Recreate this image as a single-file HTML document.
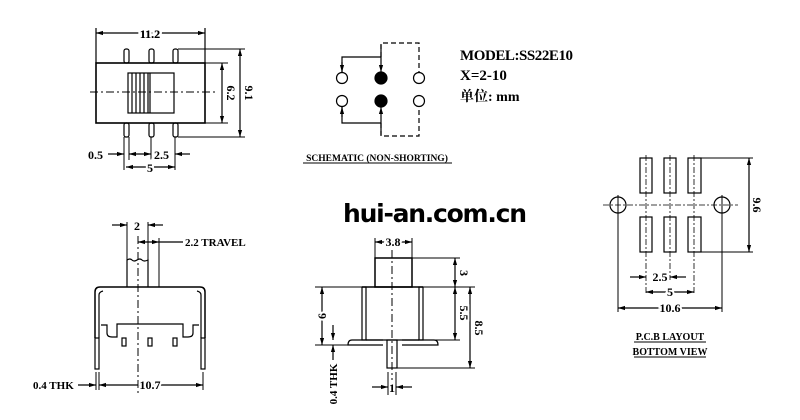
<!DOCTYPE html>
<html><head><meta charset="utf-8"><style>
html,body{margin:0;padding:0;background:#fff;}
svg{display:block;}
text{font-family:"Liberation Serif","Noto Serif CJK SC",serif;font-weight:bold;fill:#000;}
</style></head><body>
<svg width="800" height="420" viewBox="0 0 800 420" xmlns="http://www.w3.org/2000/svg">
<defs>
<marker id="a" viewBox="0 0 10 10" refX="10" refY="5" markerWidth="6" markerHeight="6" orient="auto-start-reverse"><path d="M0,2 L10,5 L0,8z" fill="#000"/></marker>
</defs>
<g stroke="#000" stroke-width="1.2" fill="none">
<!-- TOP LEFT -->
<line x1="96" y1="33" x2="205" y2="33" marker-start="url(#a)" marker-end="url(#a)"/>
<line x1="96" y1="28" x2="96" y2="63"/><line x1="205" y1="28" x2="205" y2="63"/>
<rect x="96" y="63" width="109" height="60" stroke-width="1.6"/>
<rect x="124" y="49" width="5" height="14" rx="2"/><rect x="149" y="49" width="5" height="14" rx="2"/><rect x="173" y="49" width="5" height="14" rx="2"/>
<rect x="124" y="123" width="5" height="14" rx="2"/><rect x="149" y="123" width="5" height="14" rx="2"/><rect x="173" y="123" width="5" height="14" rx="2"/>
<rect x="128" y="73" width="46" height="40"/>
<line x1="132" y1="73" x2="132" y2="113"/><line x1="136" y1="73" x2="136" y2="113"/><line x1="140" y1="73" x2="140" y2="113"/><line x1="144" y1="73" x2="144" y2="113"/><line x1="148" y1="73" x2="148" y2="113"/><line x1="150" y1="73" x2="150" y2="113"/>
<line x1="90" y1="92" x2="215" y2="92" stroke-dasharray="8,3,2,3" stroke-width="1"/>
<line x1="205" y1="63" x2="228" y2="63" stroke-width="1"/><line x1="205" y1="123" x2="228" y2="123" stroke-width="1"/>
<line x1="222" y1="63" x2="222" y2="123" marker-start="url(#a)" marker-end="url(#a)"/>
<line x1="178" y1="49" x2="245" y2="49" stroke-width="1"/><line x1="178" y1="137" x2="245" y2="137" stroke-width="1"/>
<line x1="240" y1="49" x2="240" y2="137" marker-start="url(#a)" marker-end="url(#a)"/>
<line x1="124" y1="137" x2="124" y2="170" stroke-width="1"/><line x1="129" y1="137" x2="129" y2="160" stroke-width="1"/><line x1="151" y1="137" x2="151" y2="160" stroke-width="1"/><line x1="175" y1="137" x2="175" y2="170" stroke-width="1"/>
<line x1="108" y1="154" x2="124" y2="154" marker-end="url(#a)"/><line x1="129" y1="154" x2="151" y2="154" marker-start="url(#a)" marker-end="url(#a)"/><line x1="190" y1="154" x2="175" y2="154" marker-end="url(#a)"/>
<line x1="126" y1="167" x2="175" y2="167" marker-start="url(#a)" marker-end="url(#a)"/>
<!-- SCHEMATIC -->
<circle cx="342" cy="78" r="5.5"/><circle cx="419" cy="78" r="5.5"/><circle cx="342" cy="101" r="5.5"/><circle cx="419" cy="101" r="5.5"/>
<circle cx="381" cy="78" r="6" fill="#000"/><circle cx="381" cy="101" r="6" fill="#000"/>
<polyline points="342,72 342,57 381,57"/><line x1="381" y1="45" x2="381" y2="72" marker-end="url(#a)"/><line x1="342" y1="62" x2="342" y2="72" marker-end="url(#a)"/>
<polyline points="342,107 342,123 381,123"/><line x1="381" y1="135" x2="381" y2="107" marker-end="url(#a)"/><line x1="342" y1="117" x2="342" y2="107" marker-end="url(#a)"/>
<polyline points="381,57 381,43 419,43 419,72" stroke-dasharray="5,3"/><polyline points="381,123 381,136 419,136 419,107" stroke-dasharray="5,3"/>
<line x1="303" y1="163" x2="452" y2="163" stroke-width="1"/>
<!-- BOTTOM LEFT -->
<path d="M127,287 V260 q3,-2 5,0 t5,0 t5,0 t6,0 V287"/>
<line x1="138" y1="236" x2="138" y2="395" stroke-dasharray="8,3,2,3" stroke-width="1"/>
<line x1="127" y1="222" x2="127" y2="260" stroke-width="1"/><line x1="148" y1="222" x2="148" y2="260" stroke-width="1"/>
<line x1="112" y1="225" x2="127" y2="225" marker-end="url(#a)"/><line x1="163" y1="225" x2="148" y2="225" marker-end="url(#a)"/>
<line x1="159" y1="238" x2="159" y2="287" stroke-width="1"/>
<line x1="138" y1="242" x2="159" y2="242" marker-start="url(#a)" marker-end="url(#a)"/><line x1="159" y1="242" x2="183" y2="242"/>
<path d="M95,338 V292 q0,-5 5,-5 H200 q5,0 5,5 V338" stroke-width="1.5"/>
<path d="M99,338 V295 q0,-3 4,-4 M201,338 V295 q0,-3 -4,-4"/>
<path d="M101,325 H107 V333 q0,4 5,4 H117 V324 H183 V337 H188 q5,0 5,-4 V325 H199"/>
<rect x="95" y="338" width="4" height="31"/><rect x="201" y="338" width="4" height="31"/>
<rect x="122" y="338" width="4" height="8"/><rect x="148" y="338" width="4" height="8"/><rect x="173" y="338" width="4" height="8"/>
<line x1="96" y1="372" x2="96" y2="390" stroke-width="1"/><line x1="99" y1="372" x2="99" y2="390" stroke-width="1"/><line x1="203" y1="372" x2="203" y2="390" stroke-width="1"/>
<line x1="78" y1="385" x2="96" y2="385" marker-end="url(#a)"/><line x1="99" y1="385" x2="203" y2="385" marker-start="url(#a)" marker-end="url(#a)"/>
<!-- BOTTOM MIDDLE -->
<line x1="375" y1="238" x2="375" y2="258" stroke-width="1"/><line x1="412" y1="238" x2="412" y2="258" stroke-width="1"/>
<line x1="375" y1="242" x2="412" y2="242" marker-start="url(#a)" marker-end="url(#a)"/>
<rect x="375" y="258" width="37" height="29" stroke-width="1.5"/>
<line x1="362" y1="287" x2="423" y2="287" stroke-width="1.5"/>
<rect x="362" y="287" width="4" height="53"/><rect x="419" y="287" width="4" height="53"/>
<line x1="366" y1="340" x2="419" y2="340"/>
<path d="M383,340 H352 q-4,0 -4,5 H383 M402,340 H434 q4,0 4,5 H402"/>
<rect x="387" y="340" width="10" height="28"/>
<line x1="392" y1="250" x2="392" y2="380" stroke-dasharray="8,3,2,3" stroke-width="1"/>
<line x1="412" y1="258" x2="460" y2="258" stroke-width="1"/><line x1="423" y1="287" x2="475" y2="287" stroke-width="1"/><line x1="423" y1="340" x2="460" y2="340" stroke-width="1"/><line x1="397" y1="368" x2="475" y2="368" stroke-width="1"/>
<line x1="455" y1="258" x2="455" y2="287" marker-start="url(#a)" marker-end="url(#a)"/>
<line x1="455" y1="287" x2="455" y2="340" marker-start="url(#a)" marker-end="url(#a)"/>
<line x1="470" y1="287" x2="470" y2="368" marker-start="url(#a)" marker-end="url(#a)"/>
<line x1="315" y1="287" x2="362" y2="287" stroke-width="1"/><line x1="315" y1="345" x2="348" y2="345" stroke-width="1"/>
<line x1="322" y1="287" x2="322" y2="345" marker-start="url(#a)" marker-end="url(#a)"/>
<line x1="333" y1="325" x2="333" y2="340" marker-end="url(#a)"/><line x1="333" y1="360" x2="333" y2="345" marker-end="url(#a)"/>
<line x1="388" y1="372" x2="388" y2="395" stroke-width="1"/><line x1="396" y1="372" x2="396" y2="395" stroke-width="1"/>
<line x1="372" y1="387" x2="388" y2="387" marker-end="url(#a)"/><line x1="412" y1="387" x2="396" y2="387" marker-end="url(#a)"/>
<!-- PCB -->
<rect x="640" y="158" width="12" height="35"/><rect x="664" y="158" width="12" height="35"/><rect x="688" y="158" width="13" height="35"/>
<rect x="640" y="217" width="12" height="35"/><rect x="664" y="217" width="12" height="35"/><rect x="688" y="217" width="13" height="35"/>
<g stroke-dasharray="6,2,2,2" stroke-width="0.8"><line x1="646" y1="155" x2="646" y2="295"/><line x1="670" y1="155" x2="670" y2="280"/><line x1="694" y1="155" x2="694" y2="295"/><line x1="603" y1="205" x2="738" y2="205"/></g>
<circle cx="618" cy="205" r="8"/><circle cx="722" cy="205" r="8"/>
<line x1="618" y1="195" x2="618" y2="312" stroke-width="1"/><line x1="722" y1="195" x2="722" y2="312" stroke-width="1"/>
<line x1="701" y1="158" x2="753" y2="158" stroke-width="1"/><line x1="701" y1="252" x2="753" y2="252" stroke-width="1"/>
<line x1="749" y1="158" x2="749" y2="252" marker-start="url(#a)" marker-end="url(#a)"/>
<line x1="630" y1="277" x2="646" y2="277" marker-end="url(#a)"/><line x1="686" y1="277" x2="670" y2="277" marker-end="url(#a)"/>
<line x1="646" y1="292" x2="694" y2="292" marker-start="url(#a)" marker-end="url(#a)"/>
<line x1="618" y1="308" x2="722" y2="308" marker-start="url(#a)" marker-end="url(#a)"/>
<line x1="634" y1="342" x2="706" y2="342" stroke-width="1"/><line x1="634" y1="357" x2="706" y2="357" stroke-width="1"/>
</g>
<g font-size="12">
<text x="150" y="38" text-anchor="middle" style="paint-order:stroke" stroke="#fff" stroke-width="5">11.2</text>
<text x="150" y="38" text-anchor="middle">11.2</text>
<text transform="translate(227,93) rotate(90)" text-anchor="middle" stroke="#fff" stroke-width="4" style="paint-order:stroke">6.2</text>
<text transform="translate(245,93) rotate(90)" text-anchor="middle" stroke="#fff" stroke-width="4" style="paint-order:stroke">9.1</text>
<text x="88" y="159">0.5</text>
<text x="154" y="159" stroke="#fff" stroke-width="4" style="paint-order:stroke">2.5</text>
<text x="150" y="172" text-anchor="middle" stroke="#fff" stroke-width="4" style="paint-order:stroke">5</text>
<text x="137" y="230" text-anchor="middle">2</text>
<text x="185" y="246" font-size="11">2.2  TRAVEL</text>
<text x="33" y="389" font-size="11">0.4  THK</text>
<text x="150" y="389" text-anchor="middle" stroke="#fff" stroke-width="4" style="paint-order:stroke">10.7</text>
<text x="393" y="246" text-anchor="middle" stroke="#fff" stroke-width="4" style="paint-order:stroke">3.8</text>
<text transform="translate(460,273) rotate(90)" text-anchor="middle" stroke="#fff" stroke-width="4" style="paint-order:stroke">3</text>
<text transform="translate(460,313) rotate(90)" text-anchor="middle" stroke="#fff" stroke-width="4" style="paint-order:stroke">5.5</text>
<text transform="translate(475,328) rotate(90)" text-anchor="middle" stroke="#fff" stroke-width="4" style="paint-order:stroke">8.5</text>
<text transform="translate(326,316) rotate(-90)" text-anchor="middle" stroke="#fff" stroke-width="4" style="paint-order:stroke">6</text>
<text transform="translate(337,384) rotate(-90)" text-anchor="middle" font-size="11">0.4 THK</text>
<text x="392" y="392" text-anchor="middle">1</text>
<text transform="translate(753,205) rotate(90)" text-anchor="middle" stroke="#fff" stroke-width="4" style="paint-order:stroke">9.6</text>
<text x="660" y="281" text-anchor="middle" stroke="#fff" stroke-width="4" style="paint-order:stroke">2.5</text>
<text x="670" y="296" text-anchor="middle" stroke="#fff" stroke-width="4" style="paint-order:stroke">5</text>
<text x="670" y="312" text-anchor="middle" stroke="#fff" stroke-width="4" style="paint-order:stroke">10.6</text>
<text x="670" y="340" text-anchor="middle" font-size="10">P.C.B  LAYOUT</text>
<text x="670" y="355" text-anchor="middle" font-size="10">BOTTOM  VIEW</text>
<text x="377" y="161" text-anchor="middle" font-size="9.5">SCHEMATIC (NON-SHORTING)</text>
<text x="460" y="60" font-size="15" font-weight="normal" textLength="113">MODEL:SS22E10</text>
<text x="460" y="80" font-size="15" font-weight="normal">X=2-10</text>
<text x="460" y="101" font-size="14" font-weight="normal">单位: mm</text>
</g>
<text x="343" y="222" font-family="'DejaVu Sans','Liberation Sans',sans-serif" font-size="25" font-weight="bold" textLength="184" style="font-family:'DejaVu Sans','Liberation Sans',sans-serif">hui-an.com.cn</text>
</svg>
</body></html>
